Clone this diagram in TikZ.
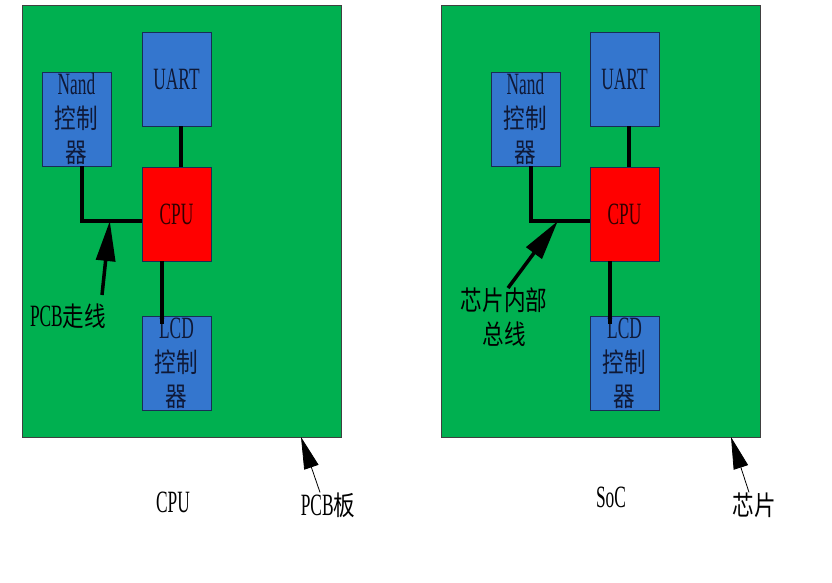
\documentclass[tikz,border=0pt]{standalone}
\usepackage{fontspec}
\setmainfont{Liberation Serif}[FakeStretch=0.56]
\newfontfamily\cjkfont{Noto Sans CJK SC}[Scale=0.87,FakeStretch=0.8]
\newcommand{\zh}[1]{{\cjkfont #1}}
\usetikzlibrary{arrows.meta}

\definecolor{boardgreen}{RGB}{0,176,80}
\definecolor{chipblue}{RGB}{52,118,206}
\definecolor{edgeblue}{RGB}{25,45,85}
\definecolor{inkblue}{RGB}{15,25,55}

\tikzset{
  board/.style={draw=black!75, fill=boardgreen, minimum width=319pt, minimum height=432pt, inner sep=0pt},
  unit/.style={draw=edgeblue, fill=chipblue, minimum width=69pt, minimum height=94pt, inner sep=0pt, align=center, text=inkblue},
  cpubox/.style={unit, fill=red, text=black!80!red},
  wire/.style={line width=3.5pt},
  note/.style={inner sep=0pt, align=center},
  fatarrow/.style={-{Triangle[length=40pt,width=19pt]}, line width=3.5pt},
  thinarrow/.style={-{Triangle[length=32pt,width=15pt]}, line width=0.8pt}
}

\begin{document}
\begin{tikzpicture}[x=1pt, y=-1pt, font=\fontsize{31}{34}\selectfont]

\useasboundingbox (0,0) rectangle (832,582);

% left: chips on the board
\node[board] (pcb) at (181.5,221) {};
\node[unit] (nandA) at (76.5,119) {Nand\\\zh{控制}\\\zh{器}};
\node[unit] (uartA) at (176.5,79) {UART};
\node[cpubox] (cpuA) at (176.5,214) {CPU};
\node[unit] (lcdA) at (176.5,363) {LCD\\\zh{控制}\\\zh{器}};

\draw[wire] ([xshift=4.5pt]uartA.south) -- ([xshift=4.5pt]cpuA.north);
\draw[wire] ([xshift=5.5pt]nandA.south) |- ([yshift=-7pt]cpuA.west);
\draw[wire] ([xshift=-14.5pt]cpuA.south) -- ([xshift=-14.5pt,yshift=-8pt]lcdA.north);

\coordinate (busA) at ([xshift=-32pt,yshift=-7pt]cpuA.west);
\coordinate (tailA) at (102,295);
\node[note] (pcbwire) at (68,316) {PCB\zh{走线}};
\draw[fatarrow] (tailA) -- (busA);

% right: everything inside the chip
\node[board] (soc) at (600.5,221) {};
\node[unit] (nandB) at (525.5,119) {Nand\\\zh{控制}\\\zh{器}};
\node[unit] (uartB) at (624.5,79) {UART};
\node[cpubox] (cpuB) at (624.5,214) {CPU};
\node[unit] (lcdB) at (624.5,363) {LCD\\\zh{控制}\\\zh{器}};

\draw[wire] ([xshift=4.5pt]uartB.south) -- ([xshift=4.5pt]cpuB.north);
\draw[wire] ([xshift=5.5pt]nandB.south) |- ([yshift=-7pt]cpuB.west);
\draw[wire] ([xshift=-14.5pt]cpuB.south) -- ([xshift=-14.5pt,yshift=-8pt]lcdB.north);

\coordinate (busB) at ([xshift=-32pt,yshift=-7pt]cpuB.west);
\coordinate (tailB) at (508,288);
\node[note] (socwire) at (504,317) {\zh{芯片内部}\\\zh{总线}};
\draw[fatarrow] (tailB) -- (busB);

% captions under the boards
\node[note] (cpulabel) at (173,502) {CPU};
\node[note] (soclabel) at (611,497) {SoC};

\coordinate (pcbedge) at (301,437);
\node[note] (pcblabel) at (328,505) {PCB\zh{板}};
\draw[thinarrow] ([xshift=-8pt]pcblabel.north) -- (pcbedge);

\coordinate (socedge) at (731,437);
\node[note] (chiplabel) at (754,505) {\zh{芯片}};
\draw[thinarrow] ([xshift=-5pt]chiplabel.north) -- (socedge);

\end{tikzpicture}
\end{document}
